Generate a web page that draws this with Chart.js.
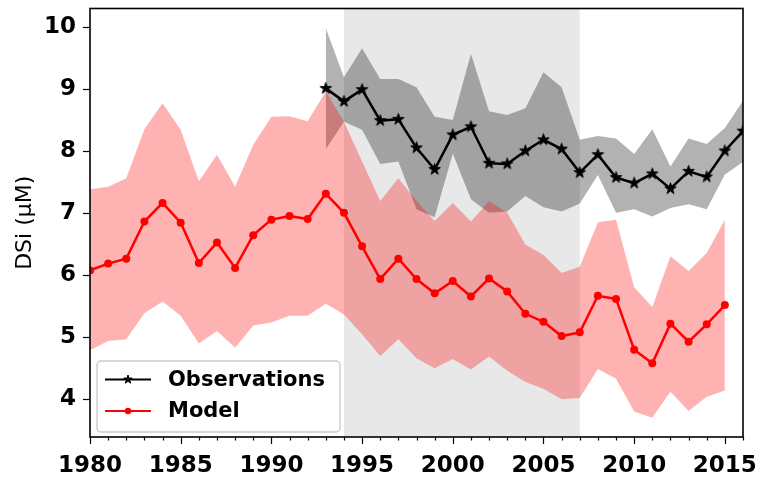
<!DOCTYPE html>
<html>
<head>
<meta charset="utf-8">
<script src="https://cdn.jsdelivr.net/npm/chart.js@4"></script>
<style>
  html, body { margin: 0; padding: 0; background: #fff; }
  #wrap { width: 759px; height: 477px; }
</style>
</head>
<body>
<div id="wrap"><canvas id="dsiChart" width="759" height="477"></canvas></div>
<script>
// --- Data ---
const modelYears = [1980, 1981, 1982, 1983, 1984, 1985, 1986, 1987, 1988, 1989,
                    1990, 1991, 1992, 1993, 1994, 1995, 1996, 1997, 1998, 1999,
                    2000, 2001, 2002, 2003, 2004, 2005, 2006, 2007, 2008, 2009,
                    2010, 2011, 2012, 2013, 2014, 2015];
const modelMean = [6.07, 6.18, 6.26, 6.86, 7.16, 6.84, 6.19, 6.52, 6.11, 6.64,
                   6.89, 6.95, 6.90, 7.31, 7.00, 6.46, 5.93, 6.26, 5.93, 5.70,
                   5.90, 5.65, 5.94, 5.73, 5.37, 5.24, 5.01, 5.07, 5.66, 5.61,
                   4.79, 4.57, 5.21, 4.92, 5.20, 5.51];
const modelHigh = [7.38, 7.42, 7.56, 8.35, 8.77, 8.34, 7.51, 7.94, 7.42, 8.10,
                   8.55, 8.56, 8.48, 8.96, 8.47, 7.83, 7.19, 7.56, 7.19, 6.87,
                   7.16, 6.86, 7.19, 7.00, 6.49, 6.32, 6.03, 6.13, 6.85, 6.89,
                   5.80, 5.48, 6.30, 6.06, 6.35, 6.89];
const modelLow  = [4.78, 4.93, 4.96, 5.38, 5.57, 5.34, 4.89, 5.09, 4.82, 5.18,
                   5.23, 5.34, 5.34, 5.53, 5.36, 5.04, 4.69, 4.96, 4.65, 4.49,
                   4.64, 4.47, 4.68, 4.45, 4.27, 4.16, 3.99, 4.01, 4.48, 4.32,
                   3.79, 3.69, 4.11, 3.80, 4.03, 4.13];

const obsYears = [1993, 1994, 1995, 1996, 1997, 1998, 1999, 2000, 2001, 2002,
                  2003, 2004, 2005, 2006, 2007, 2008, 2009, 2010, 2011, 2012,
                  2013, 2014, 2015, 2016];
const obsMean = [9.01, 8.80, 8.99, 8.49, 8.51, 8.05, 7.70, 8.26, 8.39, 7.80,
                 7.79, 8.00, 8.18, 8.03, 7.65, 7.94, 7.57, 7.48, 7.63, 7.39,
                 7.67, 7.58, 8.00, 8.32];
const obsHigh = [9.98, 9.19, 9.66, 9.16, 9.16, 9.03, 8.55, 8.50, 9.57, 8.64,
                 8.58, 8.69, 9.27, 9.03, 8.18, 8.24, 8.20, 7.95, 8.35, 7.75,
                 8.20, 8.11, 8.37, 8.81];
const obsLow  = [8.03, 8.47, 8.34, 7.79, 7.83, 7.06, 6.93, 7.96, 7.22, 7.00,
                 7.02, 7.27, 7.09, 7.02, 7.15, 7.61, 7.00, 7.06, 6.94, 7.08,
                 7.14, 7.06, 7.62, 7.82];

// shaded period
const periodStart = 1994;
const periodEnd = 2007;

const xTickValues = [1980, 1985, 1990, 1995, 2000, 2005, 2010, 2015];
const yTickValues = [4, 5, 6, 7, 8, 9, 10];

const FONT = "'DejaVu Sans', sans-serif";

const pts = (xs, ys) => xs.map((x, i) => ({ x: x, y: ys[i] }));

// filled five-point star used as the observation marker
function makeStar(r) {
    const size = Math.ceil(r * 2 + 3);
    const c = document.createElement('canvas');
    c.width = c.height = size;
    const g = c.getContext('2d');
    g.translate(size / 2, size / 2);
    drawStar(g, 0, 0, r);
    return c;
}

function drawStar(g, cx, cy, r) {
    g.beginPath();
    for (let i = 0; i < 10; i++) {
        const rad = i % 2 ? r * 0.382 : r;
        const a = -Math.PI / 2 + i * Math.PI / 5;
        g.lineTo(cx + rad * Math.cos(a), cy + rad * Math.sin(a));
    }
    g.closePath();
    g.fillStyle = '#000';
    g.fill();
    g.strokeStyle = '#000';
    g.lineWidth = 1;
    g.stroke();
}

// shaded period behind everything
const periodBand = {
    id: 'periodBand',
    beforeDraw(chart) {
        const { ctx, chartArea: a, scales: { x } } = chart;
        ctx.save();
        ctx.fillStyle = '#fff';
        ctx.fillRect(0, 0, chart.width, chart.height);
        ctx.fillStyle = 'rgb(232,232,232)';
        const x0 = x.getPixelForValue(periodStart);
        const x1 = x.getPixelForValue(periodEnd);
        ctx.fillRect(x0, a.top, x1 - x0, a.bottom - a.top);
        ctx.restore();
    }
};

// axes frame, outward ticks and legend box
const frameAndLegend = {
    id: 'frameAndLegend',
    afterDraw(chart) {
        const { ctx, chartArea: a, scales: { x, y } } = chart;
        ctx.save();
        ctx.strokeStyle = '#000';

        ctx.lineWidth = 1.2;
        for (let yr = 1980; yr <= 2016; yr++) {
            const px = Math.round(x.getPixelForValue(yr)) + 0.5;
            const len = yr % 5 === 0 ? 7 : 3.5;
            ctx.beginPath();
            ctx.moveTo(px, a.bottom);
            ctx.lineTo(px, a.bottom + len);
            ctx.stroke();
        }
        yTickValues.forEach(v => {
            const py = Math.round(y.getPixelForValue(v)) + 0.5;
            ctx.beginPath();
            ctx.moveTo(a.left, py);
            ctx.lineTo(a.left - 7, py);
            ctx.stroke();
        });

        ctx.lineWidth = 1.6;
        ctx.strokeRect(a.left, a.top, a.right - a.left, a.bottom - a.top);

        // legend
        const lx = a.left + 7, ly = a.bottom - 76, lw = 243, lh = 71;
        ctx.beginPath();
        ctx.roundRect(lx, ly, lw, lh, 4);
        ctx.fillStyle = 'rgba(255,255,255,0.8)';
        ctx.fill();
        ctx.strokeStyle = '#cccccc';
        ctx.lineWidth = 1.4;
        ctx.stroke();

        const rows = [
            { label: 'Observations', color: '#000', y: ly + 18.5, star: true },
            { label: 'Model', color: '#ff0000', y: ly + 50, star: false }
        ];
        rows.forEach(r => {
            ctx.strokeStyle = r.color;
            ctx.lineWidth = 2.2;
            ctx.beginPath();
            ctx.moveTo(lx + 8, r.y);
            ctx.lineTo(lx + 54, r.y);
            ctx.stroke();
            if (r.star) {
                drawStar(ctx, lx + 31, r.y, 4.5);
            } else {
                ctx.beginPath();
                ctx.arc(lx + 31, r.y, 3.2, 0, Math.PI * 2);
                ctx.fillStyle = r.color;
                ctx.fill();
            }
            ctx.fillStyle = '#000';
            ctx.font = 'bold 21px ' + FONT;
            ctx.textBaseline = 'middle';
            ctx.textAlign = 'left';
            ctx.fillText(r.label, lx + 71, r.y + 1);
        });
        ctx.restore();
    }
};

new Chart(document.getElementById('dsiChart'), {
    type: 'line',
    data: {
        datasets: [
            {
                label: 'Observations',
                data: pts(obsYears, obsMean),
                borderColor: '#000',
                borderWidth: 2.5,
                pointStyle: makeStar(6),
                pointRadius: 6,
                fill: false
            },
            {
                label: 'Model',
                data: pts(modelYears, modelMean),
                borderColor: '#ff0000',
                backgroundColor: '#ff0000',
                borderWidth: 2.5,
                pointRadius: 4,
                pointBorderWidth: 0,
                fill: false
            },
            {
                label: 'Model high',
                data: pts(modelYears, modelHigh),
                borderWidth: 0,
                pointRadius: 0,
                backgroundColor: 'rgba(255,0,0,0.3)',
                fill: '+1'
            },
            {
                label: 'Model low',
                data: pts(modelYears, modelLow),
                borderWidth: 0,
                pointRadius: 0,
                fill: false
            },
            {
                label: 'Obs high',
                data: pts(obsYears, obsHigh),
                borderWidth: 0,
                pointRadius: 0,
                backgroundColor: 'rgba(0,0,0,0.3)',
                fill: '+1'
            },
            {
                label: 'Obs low',
                data: pts(obsYears, obsLow),
                borderWidth: 0,
                pointRadius: 0,
                fill: false
            }
        ]
    },
    options: {
        responsive: false,
        animation: false,
        events: [],
        layout: { padding: { top: 5, right: 16, left: 0, bottom: 0 } },
        plugins: {
            legend: { display: false },
            tooltip: { enabled: false }
        },
        elements: { line: { tension: 0 } },
        scales: {
            x: {
                type: 'linear',
                min: 1980,
                max: 2016,
                grid: { display: false, drawTicks: false },
                border: { display: false },
                afterFit: s => {
                    s.height = 40;
                    s.paddingLeft = 0;
                    s.paddingRight = 0;
                },
                afterBuildTicks: s => { s.ticks = xTickValues.map(v => ({ value: v })); },
                ticks: {
                    autoSkip: false,
                    maxRotation: 0,
                    padding: 15,
                    color: '#000',
                    font: { family: FONT, size: 23, weight: 'bold' },
                    callback: v => String(v)
                }
            },
            y: {
                min: 3.38,
                max: 10.30,
                grid: { display: false, drawTicks: false },
                border: { display: false },
                afterFit: s => {
                    s.width = 90;
                    s.paddingTop = 0;
                    s.paddingBottom = 0;
                },
                afterBuildTicks: s => { s.ticks = yTickValues.map(v => ({ value: v })); },
                title: {
                    display: true,
                    text: 'DSi (μM)',
                    color: '#000',
                    padding: { top: 12, bottom: 0 },
                    font: { family: FONT, size: 22 }
                },
                ticks: {
                    padding: 14,
                    color: '#000',
                    font: { family: FONT, size: 23, weight: 'bold' },
                    callback: v => String(v)
                }
            }
        }
    },
    plugins: [periodBand, frameAndLegend]
});
</script>
</body>
</html>
